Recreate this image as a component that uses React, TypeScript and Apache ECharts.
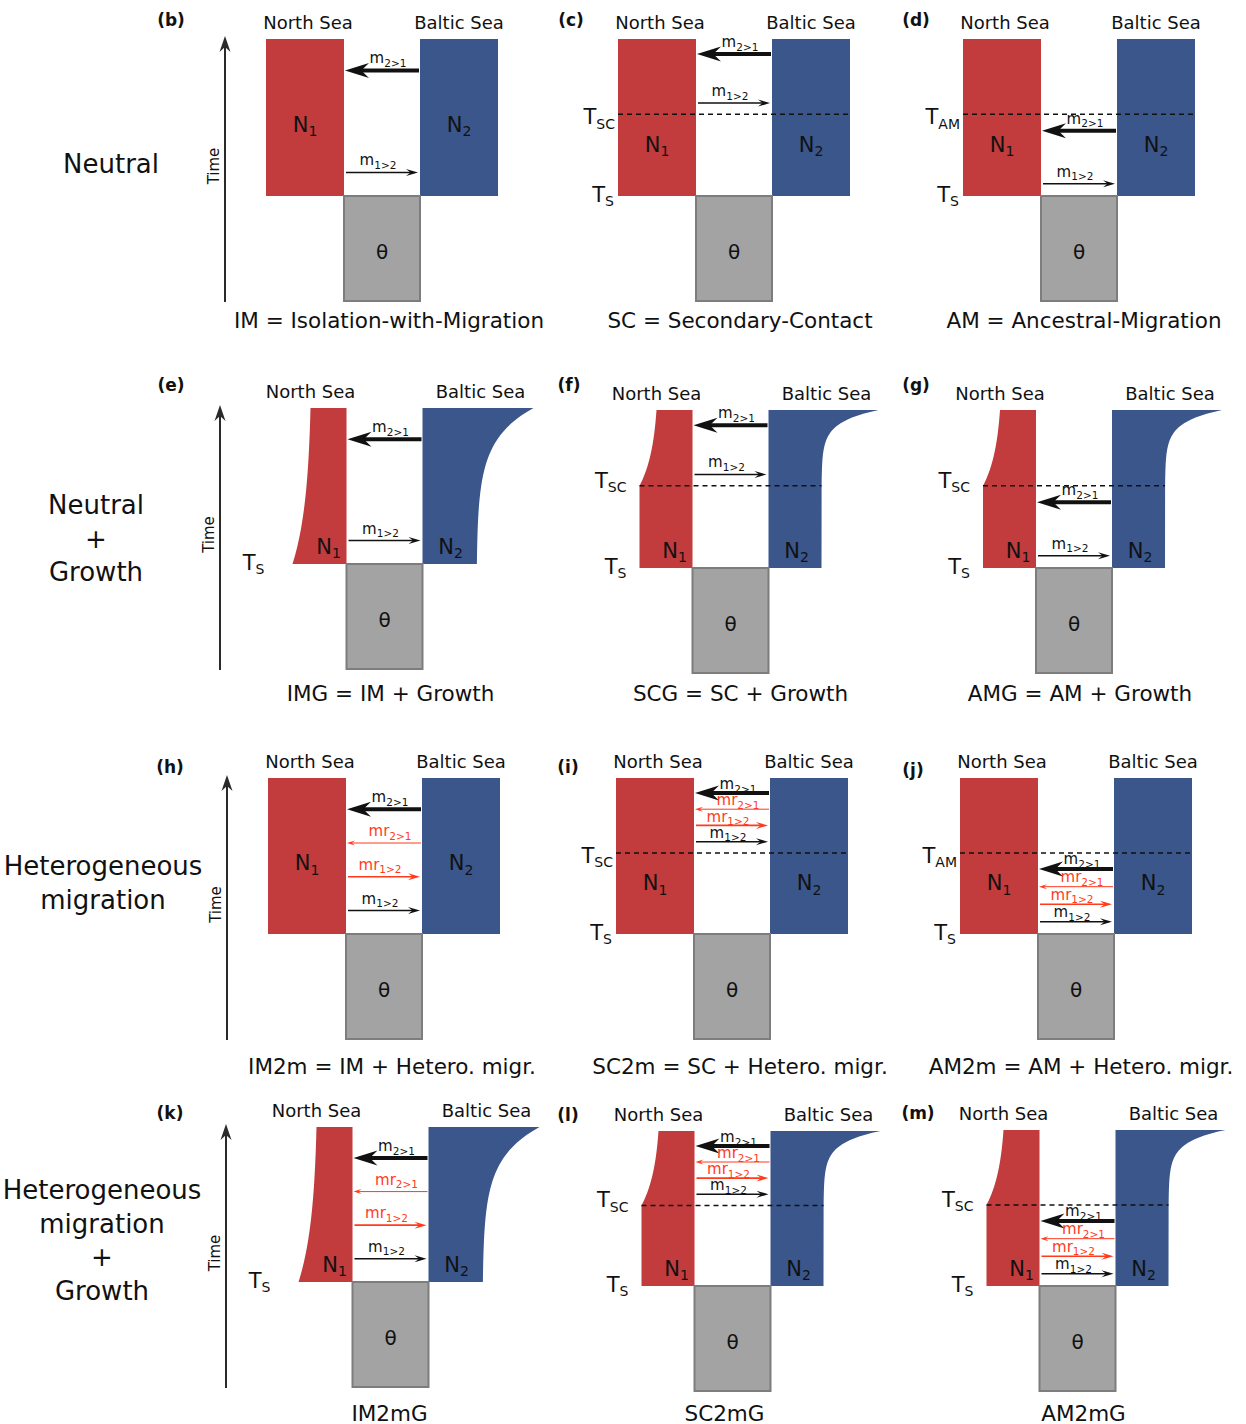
import React, { useEffect, useRef } from 'react';
import * as echarts from 'echarts';

const W = 1246;
const H = 1424;
const FONT = '"DejaVu Sans", "Liberation Sans", sans-serif';

// ---------- content ----------
const panelLetters = ['(b)', '(c)', '(d)', '(e)', '(f)', '(g)', '(h)', '(i)', '(j)', '(k)', '(l)', '(m)'];
const panelModels = ['IM', 'SC', 'AM', 'IM', 'SC', 'AM', 'IM', 'SC', 'AM', 'IM', 'SC', 'AM'];
const panelGrowth = [false, false, false, true, true, true, false, false, false, true, true, true];
const panelHetero = [false, false, false, false, false, false, true, true, true, true, true, true];
const panelEventSub = ['', 'SC', 'AM', '', 'SC', 'SC', '', 'SC', 'AM', '', 'SC', 'SC'];
const panelShowTs = [false, true, true, true, true, true, false, true, true, true, true, true];
const captions = [
  'IM = Isolation-with-Migration', 'SC = Secondary-Contact', 'AM = Ancestral-Migration',
  'IMG = IM + Growth', 'SCG = SC + Growth', 'AMG = AM + Growth',
  'IM2m = IM + Hetero. migr.', 'SC2m = SC + Hetero. migr.', 'AM2m = AM + Hetero. migr.',
  'IM2mG', 'SC2mG', 'AM2mG',
];
const rowLabels = [
  ['Neutral'],
  ['Neutral', '+', 'Growth'],
  ['Heterogeneous', 'migration'],
  ['Heterogeneous', 'migration', '+', 'Growth'],
];
const popNames = ['North Sea', 'Baltic Sea'];
const popSizes = [['N', '1'], ['N', '2']];
const ancestralLabel = 'θ';
const timeLabel = 'Time';
const splitTime = ['T', 'S'];
const eventTimeMain = 'T';
const homRates = [
  { m: 'm', sub: '2>1', dir: -1, kind: 'thick' },
  { m: 'm', sub: '1>2', dir: 1, kind: 'thin' },
];
const hetRates = [
  { m: 'm', sub: '2>1', dir: -1, kind: 'thick' },
  { m: 'mr', sub: '2>1', dir: -1, kind: 'redThin' },
  { m: 'mr', sub: '1>2', dir: 1, kind: 'red' },
  { m: 'm', sub: '1>2', dir: 1, kind: 'thin' },
];
const eventFraction = 0.48; // T_SC / T_AM relative position between present and T_S
const arrowFrom = 0.2;
const arrowTo = 0.85;

// ---------- layout ----------
const panelCx = [382, 734, 1079, 384.5, 730.5, 1074, 384, 732, 1076, 390.5, 732.5, 1077.5];
const panelTop = [39, 39, 39, 408, 410, 410, 778, 778, 778, 1127, 1131, 1130];
const panelTs = [196, 196, 196, 564, 568, 568, 934, 934, 934, 1282, 1286, 1286];
const ancDepth = 105;
const letterPos = [[171, 20], [571, 20], [916, 20], [171, 385], [569, 385], [916, 385], [170, 767], [568, 767], [913, 770], [170, 1113], [568, 1115], [918, 1113]];
const captionY = [320, 693, 1066, 1413];
const captionDx = [7, 6, 5, 6, 10, 6, 8, 8, 5, -1, -8, 6];
const rowLabelX = [111, 96, 103, 102];
const rowLabelY0 = [164, 505, 866, 1190];
const rowLabelStep = 33.5;
const timeAxisX = [225, 220, 227, 226];

const RED = '#c23b3d';
const BLUE = '#3a568b';
const GRAY = '#a3a3a3';
const GRAY_EDGE = '#7d7d7d';
const INK = '#111111';
const ORANGE = '#ff3b1c';

let ctx: CanvasRenderingContext2D | null = null;
function measure(t: string, size: number, weight = 'normal') {
  if (!ctx) ctx = document.createElement('canvas').getContext('2d');
  if (!ctx) return t.length * size * 0.6;
  ctx.font = `${weight} ${size}px ${FONT}`;
  return ctx.measureText(t).width;
}

function txt(x: number, y: number, text: string, size: number, o: any = {}) {
  const align = o.align || 'center';
  const va = o.va || 'middle';
  return {
    type: 'text',
    x,
    y,
    rotation: o.rotation || 0,
    silent: true,
    style: {
      text,
      fontSize: size,
      fontFamily: FONT,
      fontWeight: o.weight || 'normal',
      fill: o.fill || INK,
      align,
      verticalAlign: va,
      textAlign: align,
      textVerticalAlign: va,
    },
  };
}

function subText(x: number, y: number, main: string, sub: string, size: number, subSize: number, fill: string, anchor = 'center') {
  const wm = measure(main, size);
  const ws = measure(sub, subSize);
  const total = wm + ws;
  const left = anchor === 'center' ? x - total / 2 : anchor === 'right' ? x - total : x;
  return [
    txt(left, y, main, size, { align: 'left', fill }),
    txt(left + wm, y + size * 0.3, sub, subSize, { align: 'left', fill }),
  ];
}

const arrowKinds: Record<string, any> = {
  thick: { lw: 4, color: INK, L: 24, Wd: 15, notch: 0.68 },
  thin: { lw: 1.5, color: INK, L: 12, Wd: 7, notch: 0.62 },
  redThin: { lw: 1, color: ORANGE, L: 8, Wd: 5, notch: 0.6 },
  red: { lw: 1.6, color: ORANGE, L: 12, Wd: 7, notch: 0.62 },
};

function arrow(xs: number, xt: number, y: number, kind: string) {
  const k = arrowKinds[kind];
  const d = xt > xs ? 1 : -1;
  const notchX = xt - d * k.L * k.notch;
  return [
    { type: 'line', silent: true, shape: { x1: xs, y1: y, x2: notchX + d * 1, y2: y }, style: { stroke: k.color, lineWidth: k.lw } },
    {
      type: 'polygon', silent: true,
      shape: { points: [[xt, y], [xt - d * k.L, y - k.Wd / 2], [notchX, y], [xt - d * k.L, y + k.Wd / 2]] },
      style: { fill: k.color },
    },
  ];
}

function buildPanel(i: number) {
  const els: any[] = [];
  const texts: any[] = [];
  const cx = panelCx[i];
  const top = panelTop[i];
  const ts = panelTs[i];
  const model = panelModels[i];
  const growth = panelGrowth[i];
  const hetero = panelHetero[i];
  const rr = cx - 38;
  const bl = cx + 38;
  const tev = top + eventFraction * (ts - top);
  const N = 40;

  // populations
  if (!growth) {
    els.push({ type: 'rect', silent: true, shape: { x: rr - 78, y: top, width: 78, height: ts - top }, style: { fill: RED } });
    els.push({ type: 'rect', silent: true, shape: { x: bl, y: top, width: 78, height: ts - top }, style: { fill: BLUE } });
  } else if (model === 'IM') {
    const red: number[][] = [[rr, top], [rr, ts], [rr - 54, ts]];
    for (let j = N; j >= 0; j--) {
      const t = j / N;
      const f = (Math.exp(2.5 * t) - 1) / (Math.exp(2.5) - 1);
      red.push([rr - 36 - 18 * f, top + t * (ts - top)]);
    }
    els.push({ type: 'polygon', silent: true, shape: { points: red }, style: { fill: RED } });
    const tau = (ts - top) * 0.2;
    const blue: number[][] = [[bl, top]];
    for (let j = 0; j <= N; j++) {
      const y = top + (j / N) * (ts - top);
      blue.push([bl + 54 + 57 * Math.exp(-(y - top) / tau), y]);
    }
    blue.push([bl + 54, ts], [bl, ts]);
    els.push({ type: 'polygon', silent: true, shape: { points: blue }, style: { fill: BLUE } });
  } else {
    const red: number[][] = [[rr, top], [rr, ts], [rr - 53, ts], [rr - 53, tev]];
    for (let j = N; j >= 0; j--) {
      const t = j / N;
      const f = (Math.exp(2 * t) - 1) / (Math.exp(2) - 1);
      red.push([rr - 36 - 17 * f, top + t * (tev - top)]);
    }
    els.push({ type: 'polygon', silent: true, shape: { points: red }, style: { fill: RED } });
    const tau = (tev - top) * 0.16;
    const blue: number[][] = [[bl, top]];
    for (let j = 0; j <= N; j++) {
      const y = top + (j / N) * (tev - top);
      blue.push([bl + 53 + 57 * Math.exp(-(y - top) / tau), y]);
    }
    blue.push([bl + 53, ts], [bl, ts]);
    els.push({ type: 'polygon', silent: true, shape: { points: blue }, style: { fill: BLUE } });
  }

  // ancestral population
  els.push({
    type: 'rect', silent: true,
    shape: { x: cx - 38, y: ts, width: 76, height: ancDepth },
    style: { fill: GRAY, stroke: GRAY_EDGE, lineWidth: 2 },
  });
  texts.push(txt(cx, ts + ancDepth / 2 + 3, ancestralLabel, 20));

  // event line
  const half = growth ? 53 : 78;
  if (model !== 'IM') {
    els.push({
      type: 'line', silent: true,
      shape: { x1: rr - half, y1: tev, x2: bl + half, y2: tev },
      style: { stroke: INK, lineWidth: 1.5, lineDash: [5, 4] },
    });
    const evRight = growth ? cx - 104 : cx - 119;
    texts.push(...subText(evRight, tev + (growth ? -5 : 3), eventTimeMain, panelEventSub[i], 21, 14, INK, 'right'));
  }
  if (panelShowTs[i]) {
    const tsRight = growth ? (model === 'IM' ? cx - 120 : cx - 104) : cx - 120;
    texts.push(...subText(tsRight, ts - 1, splitTime[0], splitTime[1], 21, 14, INK, 'right'));
  }

  // migration arrows
  const rates = hetero ? hetRates : homRates;
  const p0 = model === 'AM' ? tev : top;
  const p1 = model === 'SC' ? tev : ts;
  const n = rates.length;
  const spacing = ((p1 - p0) * (arrowTo - arrowFrom)) / (n - 1);
  const gap = Math.min(12, spacing * 0.55);
  rates.forEach((r, j) => {
    const y = p0 + (p1 - p0) * (arrowFrom + ((arrowTo - arrowFrom) * j) / (n - 1));
    if (r.dir < 0) els.push(...arrow(bl - 1, rr + 1, y, r.kind));
    else els.push(...arrow(rr + 2, bl - 2, y, r.kind));
    const col = r.kind === 'red' || r.kind === 'redThin' ? ORANGE : INK;
    texts.push(...subText(cx + (r.dir < 0 ? 6 : -4), y - gap, r.m, r.sub, 15, 10.5, col, 'center'));
  });

  // population size labels
  if (growth) {
    texts.push(...subText(rr - 18, ts - 17, popSizes[0][0], popSizes[0][1], 21, 14, INK));
    texts.push(...subText(bl + 28, ts - 17, popSizes[1][0], popSizes[1][1], 21, 14, INK));
  } else {
    const ny = model === 'IM' ? top + 0.56 * (ts - top) : tev + 0.4 * (ts - tev);
    texts.push(...subText(rr - 39, ny - 2, popSizes[0][0], popSizes[0][1], 21, 14, INK));
    texts.push(...subText(bl + 39, ny - 2, popSizes[1][0], popSizes[1][1], 21, 14, INK));
  }

  // headers
  texts.push(txt(cx - 74, top - 17, popNames[0], 18));
  texts.push(txt(cx + (growth ? 96 : 77), top - 17, popNames[1], 18));
  texts.push(txt(letterPos[i][0], letterPos[i][1], panelLetters[i], 17, { weight: 'bold' }));

  // caption
  const row = Math.floor(i / 3);
  texts.push(txt(cx + captionDx[i], captionY[row], captions[i], 21.5));

  return { els, texts };
}

function buildRow(r: number) {
  const els: any[] = [];
  const top = panelTop[r * 3] - 3;
  const bottom = panelTs[r * 3] + ancDepth + 1;
  const ax = timeAxisX[r];
  els.push({ type: 'line', silent: true, shape: { x1: ax, y1: bottom, x2: ax, y2: top + 9 }, style: { stroke: '#2a2a2a', lineWidth: 2 } });
  els.push({
    type: 'polygon', silent: true,
    shape: { points: [[ax, top], [ax - 5.5, top + 16], [ax, top + 11], [ax + 5.5, top + 16]] },
    style: { fill: '#2a2a2a' },
  });
  els.push(txt(ax - 11, (top + bottom) / 2 - 3, timeLabel, 15, { rotation: Math.PI / 2 }));
  rowLabels[r].forEach((l, j) => {
    els.push(txt(rowLabelX[r], rowLabelY0[r] + j * rowLabelStep, l, 26));
  });
  return els;
}

export default function App() {
  const ref = useRef<HTMLDivElement>(null);
  useEffect(() => {
    document.body.style.margin = '0';
    if (!ref.current) return;
    const chart = echarts.init(ref.current, undefined, { renderer: 'svg', width: W, height: H });
    const shapes: any[] = [];
    const labels: any[] = [];
    for (let i = 0; i < 12; i++) {
      const p = buildPanel(i);
      shapes.push(...p.els);
      labels.push(...p.texts);
    }
    for (let r = 0; r < 4; r++) labels.push(...buildRow(r));
    chart.setOption({
      animation: false,
      backgroundColor: '#ffffff',
      graphic: { elements: [...shapes, ...labels] },
    });
    return () => chart.dispose();
  }, []);
  return <div ref={ref} style={{ position: 'absolute', left: 0, top: 0, width: W, height: H, background: '#fff' }} />;
}
